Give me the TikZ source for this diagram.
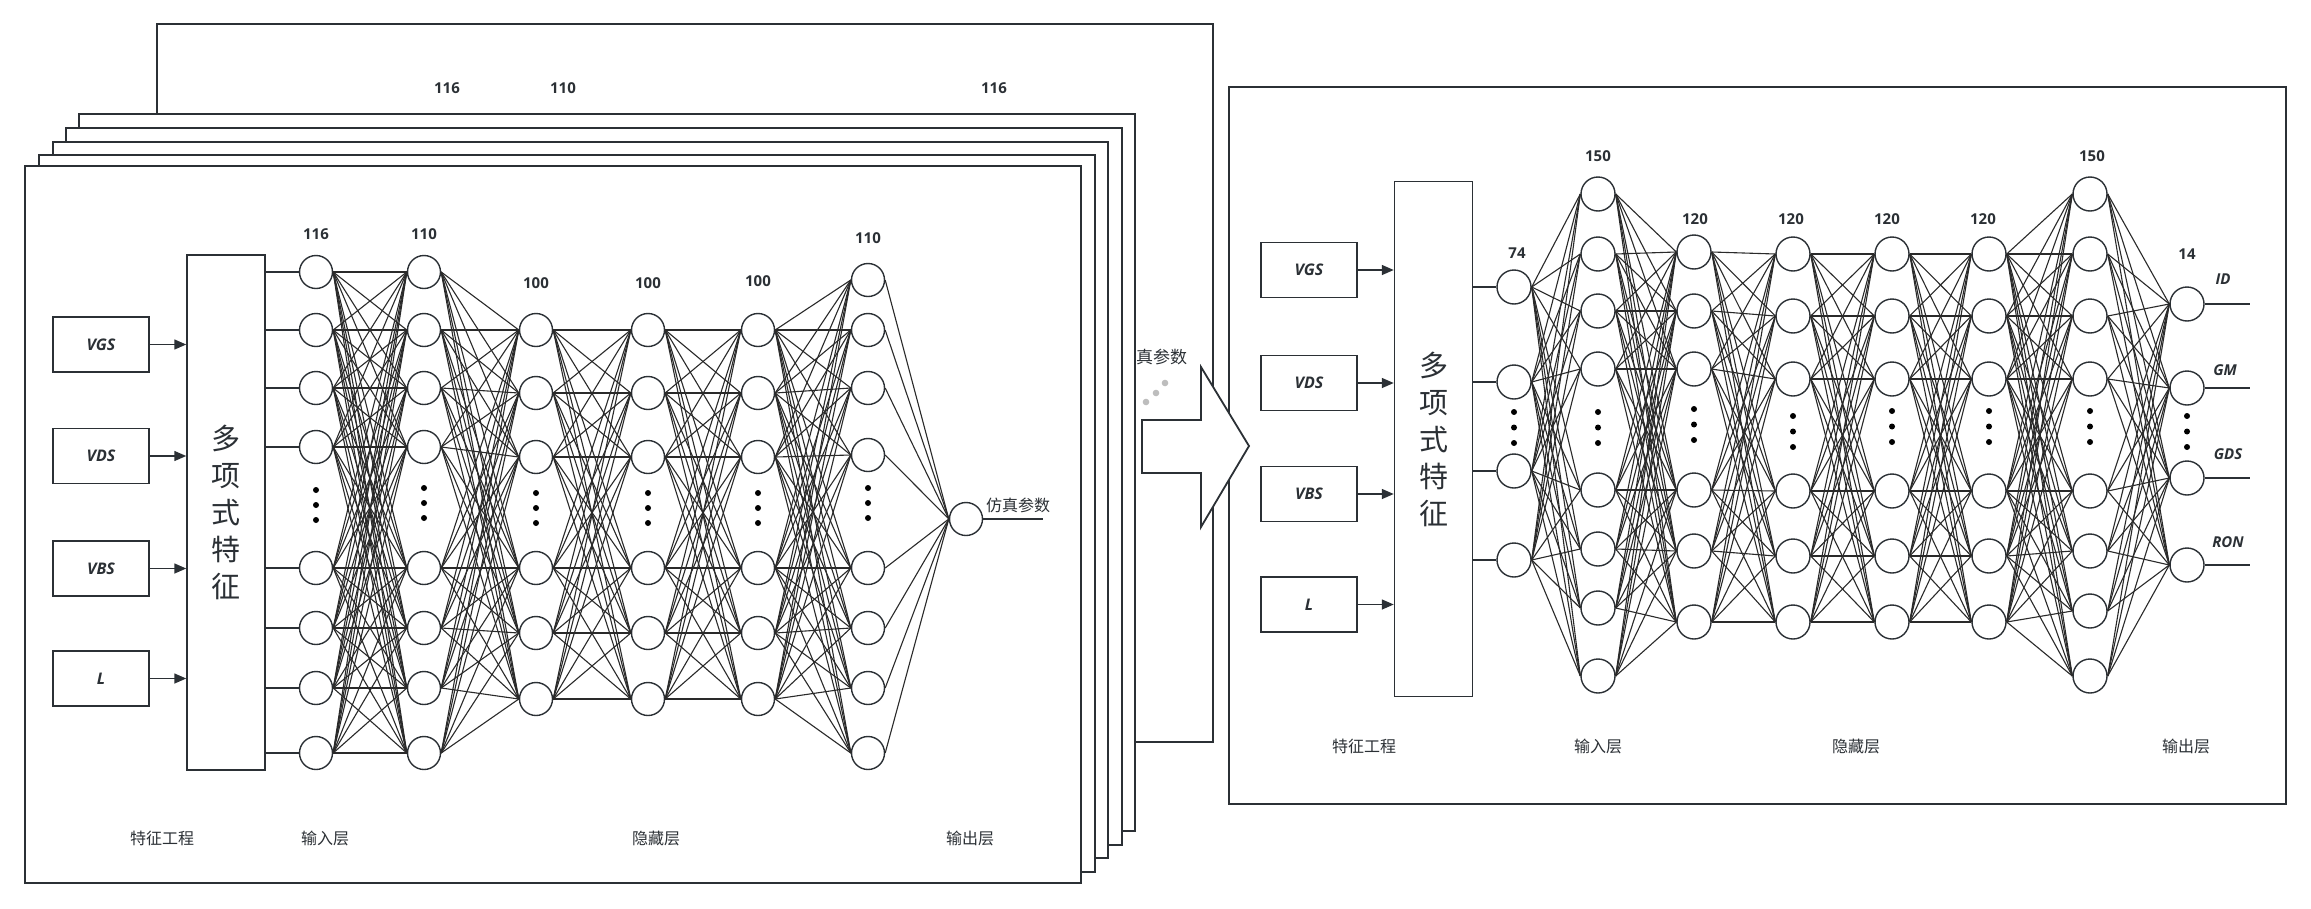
\documentclass[tikz,border=0pt]{standalone}
\usepackage{fontspec}
\setmainfont{Open Sans}
\newfontfamily\cjk{Noto Sans CJK SC}
\usepackage{tikz}
\usetikzlibrary{arrows.meta,positioning,calc}
\definecolor{nnline}{HTML}{2B3035}
\definecolor{nnedge}{HTML}{2A2A2A}
\definecolor{nndot}{HTML}{BDBDBD}

\begin{document}
\begin{tikzpicture}[x=1pt,y=-1pt,
card/.style={draw=nnline,fill=white,line width=1.8pt},
neuron/.style={circle,draw=nnline,fill=white,line width=1.4pt,minimum size=33pt,inner sep=0pt},
rneuron/.style={neuron,minimum size=34pt},
inbox/.style={draw=nnline,line width=1.5pt,minimum width=96pt,minimum height=55pt,
font=\fontsize{16}{19}\selectfont\bfseries\itshape,text=nnline},
polybox/.style={draw=nnline,line width=1.5pt,minimum width=78pt,minimum height=515pt,
inner sep=0pt,align=center,font=\cjk\fontsize{29}{37}\selectfont,text=nnline},
link/.style={nnedge,line width=1.1pt},
stub/.style={nnline,line width=1.4pt},
arr/.style={-{Triangle[length=12pt,width=10pt]},line width=1.5pt,nnline},
num/.style={font=\fontsize{15}{18}\selectfont\bfseries,text=nnline},
outlbl/.style={font=\fontsize{15}{18}\selectfont\bfseries\itshape,text=nnline},
lyr/.style={font=\cjk\fontsize{16}{19}\selectfont,text=nnline}
]
\useasboundingbox (0,0) rectangle (2311,908);
\fill[white] (0,0) rectangle (2311,908);

% card at the back
\draw[card] (157,24) rectangle (1213,742);
\foreach \x/\n [count=\k] in {447/116,563/110,994/116}
  \node[num] (bnum-\k) at (\x,88) {\n};
\node[lyr,font=\cjk\fontsize{17}{20}\selectfont] (bsim) at (1153,357) {仿真参数};
\foreach \x/\y in {1146/402,1156/393,1165/383}
  \fill[nndot] (\x,\y) circle (3.3);

% stacked cards
\foreach \xa/\ya/\xb/\yb in {79/114/1135/831,66/128/1122/845,53/142/1108/858,39/155/1095/872}
  \draw[card] (\xa,\ya) rectangle (\xb,\yb);

% front card
\draw[card] (25,166) rectangle (1081,883);
\node[polybox] (fpoly) at (226,512.5) {多\\项\\式\\特\\征};
\foreach \nm/\txt/\y in {fvgs/VGS/344.5,fvds/VDS/456,fvbs/VBS/568.5,fl/L/678.5}{
  \node[inbox] (\nm) at (101,\y) {\txt};
  \draw[arr] (\nm) -- (\nm -| fpoly.west);
}
\foreach \y [count=\i] in {272,330,388,447,568,628,688,753}{
  \node[neuron] (f1-\i) at (316,\y) {};
  \node[neuron] (f2-\i) at (424,\y) {};
}
\foreach \y [count=\i] in {330,393,457,568,633,699}{
  \node[neuron] (f3-\i) at (536,\y) {};
  \node[neuron] (f4-\i) at (648,\y) {};
  \node[neuron] (f5-\i) at (758,\y) {};
}
\foreach \y [count=\i] in {280,330,388,455,568,628,688,753}
  \node[neuron] (f6-\i) at (868,\y) {};
\node[neuron] (fout) at (966,519) {};
\coordinate (fend) at (1043,519);

\foreach \i in {1,...,8}{
  \draw[stub] (fpoly.east |- f1-\i) -- (f1-\i.west);
  \foreach \j in {1,...,8} \draw[link] (f1-\i.east) -- (f2-\j.west);
  \foreach \j in {1,...,6} \draw[link] (f2-\i.east) -- (f3-\j.west);
  \draw[link] (f6-\i.east) -- (fout.west);
}
\foreach \i in {1,...,6}{
  \foreach \j in {1,...,6}{
    \draw[link] (f3-\i.east) -- (f4-\j.west);
    \draw[link] (f4-\i.east) -- (f5-\j.west);
  }
  \foreach \j in {1,...,8} \draw[link] (f5-\i.east) -- (f6-\j.west);
}
\draw[stub] (fout) -- (fend);
\node[lyr] (fsim) at (1018,505) {仿真参数};

\foreach \x/\a in {316/490,424/488,536/493,648/493,758/493,868/488}
  \foreach \d in {0,15,30} \fill (\x,\a+\d) circle (3);
\foreach \x/\y/\n [count=\k] in {316/234/116,424/234/110,536/283/100,648/283/100,758/281/100,868/238/110}
  \node[num] (fnum-\k) at (\x,\y) {\n};
\foreach \x/\n [count=\k] in {162/特征工程,325/输入层,656/隐藏层,970/输出层}
  \node[lyr] (flyr-\k) at (\x,838) {\n};

% right panel
\draw[card] (1229,87) rectangle (2286,804);
\node[polybox] (rpoly) at (1433.5,439) {多\\项\\式\\特\\征};
\foreach \nm/\txt/\y in {rvgs/VGS/270,rvds/VDS/383,rvbs/VBS/494,rl/L/604.5}{
  \node[inbox] (\nm) at (1309,\y) {\txt};
  \draw[arr] (\nm) -- (\nm -| rpoly.west);
}
\foreach \y [count=\i] in {287,382,471,560}
  \node[rneuron] (r1-\i) at (1514,\y) {};
\foreach \y [count=\i] in {194,254,311,369,490,549,608,676}
  \node[rneuron] (r2-\i) at (1598,\y) {};
\foreach \y [count=\i] in {252,311,369,490,551,622}
  \node[rneuron] (r3-\i) at (1694,\y) {};
\foreach \y [count=\i] in {254,316,379,491,556,622}{
  \node[rneuron] (r4-\i) at (1793,\y) {};
  \node[rneuron] (r5-\i) at (1892,\y) {};
  \node[rneuron] (r6-\i) at (1989,\y) {};
}
\foreach \y [count=\i] in {194,254,316,379,491,551,611,676}
  \node[rneuron] (r7-\i) at (2090,\y) {};
\foreach \y [count=\i] in {304,388,478,565}{
  \node[rneuron] (r8-\i) at (2187,\y) {};
  \coordinate (rend-\i) at (2250,\y);
}

\foreach \i in {1,...,4}{
  \draw[stub] (rpoly.east |- r1-\i) -- (r1-\i.west);
  \foreach \j in {1,...,8} \draw[link] (r1-\i.east) -- (r2-\j.west);
  \draw[stub] (r8-\i) -- (rend-\i);
}
\foreach \i in {1,...,8}{
  \foreach \j in {1,...,6} \draw[link] (r2-\i.east) -- (r3-\j.west);
  \foreach \j in {1,...,4} \draw[link] (r7-\i.east) -- (r8-\j.west);
}
\foreach \i in {1,...,6}{
  \foreach \j in {1,...,6}{
    \draw[link] (r3-\i.east) -- (r4-\j.west);
    \draw[link] (r4-\i.east) -- (r5-\j.west);
    \draw[link] (r5-\i.east) -- (r6-\j.west);
  }
  \foreach \j in {1,...,8} \draw[link] (r6-\i.east) -- (r7-\j.west);
}

\foreach \x/\a in {1514/412,1598/412,1694/409,1793/416,1892/411,1989/411,2090/411,2187/416}
  \foreach \d in {0,15.5,31} \fill (\x,\a+\d) circle (3);
\foreach \x/\y/\n [count=\k] in {1517/253/74,1598/156/150,1695/219/120,1791/219/120,1887/219/120,1983/219/120,2092/156/150,2187/254/14}
  \node[num] (rnum-\k) at (\x,\y) {\n};
\foreach \x/\y/\n [count=\k] in {2223/279/ID,2225/370/GM,2228/454/GDS,2228/542/RON}
  \node[outlbl] (rout-\k) at (\x,\y) {\n};
\foreach \x/\n [count=\k] in {1364/特征工程,1598/输入层,1856/隐藏层,2186/输出层}
  \node[lyr] (rlyr-\k) at (\x,746) {\n};

% block arrow between the panels
\draw[nnline,fill=white,line width=1.8pt,line join=miter]
  (1142,420) -- (1201,420) -- (1201,367) -- (1249,446) -- (1201,527) -- (1201,473) -- (1142,473) -- cycle;
\end{tikzpicture}
\end{document}
